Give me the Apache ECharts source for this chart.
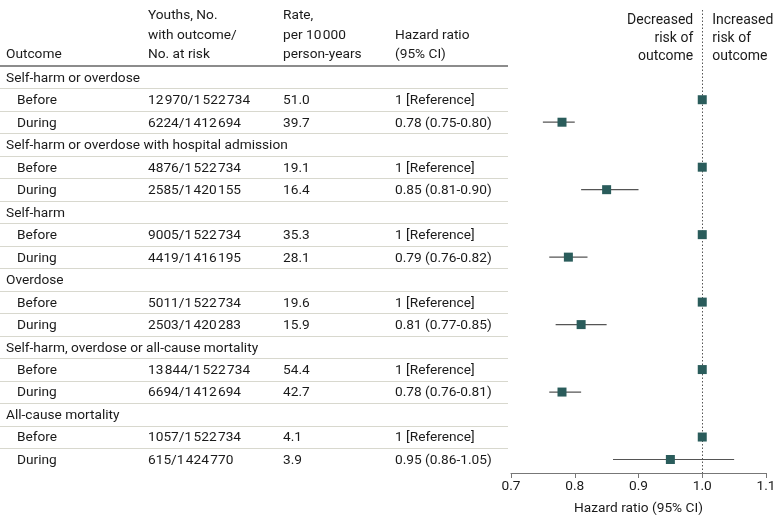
<!DOCTYPE html>
<html><head><meta charset="utf-8">
<script src="https://cdn.jsdelivr.net/npm/echarts@6/dist/echarts.min.js"></script>
<style>html,body{margin:0;padding:0;background:#fff}#c{width:780px;height:526px}</style>
</head><body><div id="c"></div>
<script>
const outcomes = ["Self-harm or overdose","Self-harm or overdose with hospital admission","Self-harm","Overdose","Self-harm, overdose or all-cause mortality","All-cause mortality"];
const periods = ["Before","During"];
const youthsBefore = ["12\u200A970/1\u200A522\u200A734","4876/1\u200A522\u200A734","9005/1\u200A522\u200A734","5011/1\u200A522\u200A734","13\u200A844/1\u200A522\u200A734","1057/1\u200A522\u200A734"];
const youthsDuring = ["6224/1\u200A412\u200A694","2585/1\u200A420\u200A155","4419/1\u200A416\u200A195","2503/1\u200A420\u200A283","6694/1\u200A412\u200A694","615/1\u200A424\u200A770"];
const rateBefore = ["51.0","19.1","35.3","19.6","54.4","4.1"];
const rateDuring = ["39.7","16.4","28.1","15.9","42.7","3.9"];
const hrBefore = [1,1,1,1,1,1];
const hrDuring = [0.78,0.85,0.79,0.81,0.78,0.95];
const ciLow = [0.75,0.81,0.76,0.77,0.76,0.86];
const ciHigh = [0.80,0.90,0.82,0.85,0.81,1.05];
const xTicks = [0.7,0.8,0.9,1.0,1.1];

const FONT = 'Roboto';
const FS = 13.7;
const TXT = '#1a1a1a';
const chart = echarts.init(document.getElementById('c'));

const points = [], ciData = [];
outcomes.forEach((o,k)=>{
  points.push([hrBefore[k], 3*k+1]);
  points.push([hrDuring[k], 3*k+2]);
  ciData.push([ciLow[k], ciHigh[k], 3*k+2]);
});

chart.setOption({
  animation:false,
  grid:{left:511, right:14, top:66, bottom:53},
  xAxis:{type:'value', min:xTicks[0], max:xTicks[xTicks.length-1], interval:0.1,
    axisLine:{show:true, onZero:false, lineStyle:{color:'#777', width:1}},
    axisTick:{show:true, length:5, lineStyle:{color:'#777'}},
    splitLine:{show:false},
    axisLabel:{fontFamily:FONT, fontSize:FS, color:TXT, margin:7, formatter:v=>v.toFixed(1)},
    name:'Hazard ratio (95% CI)', nameLocation:'middle', nameGap:29,
    nameTextStyle:{fontFamily:FONT, fontSize:FS, color:TXT}},
  yAxis:{type:'value', inverse:true, min:-0.5, max:17.6, show:false},
  series:[
    {type:'custom', data:ciData, encode:{x:[0,1], y:2},
     renderItem:(params, api)=>{
       const a = api.coord([api.value(0), api.value(2)]);
       const b = api.coord([api.value(1), api.value(2)]);
       return {type:'line', shape:{x1:a[0], y1:a[1], x2:b[0], y2:b[1]}, style:{stroke:'#555', lineWidth:1.2}};
     }, z:2},
    {type:'scatter', data:points, symbol:'rect', symbolSize:9,
     itemStyle:{color:'#2a5c5b', opacity:1}, z:3}
  ]
});

function yPix(v){ return chart.convertToPixel({gridIndex:0}, [1, v])[1]; }
const xOne = chart.convertToPixel({gridIndex:0}, [1, 0])[0];
const g = [];
function txt(x, y, s, opt){
  g.push({type:'text', x:x, y:y+1, style:Object.assign({text:s, fontFamily:FONT, fontSize:FS, fill:TXT, textVerticalAlign:'middle', textAlign:'left'}, opt||{}), z:10});
}
// header
const hdrYs = [15, 35, 54];
txt(6, hdrYs[2], 'Outcome');
txt(148, hdrYs[0], 'Youths, No.'); txt(148, hdrYs[1], 'with outcome/'); txt(148, hdrYs[2], 'No. at risk');
txt(283, hdrYs[0], 'Rate,'); txt(283, hdrYs[1], 'per 10\u200A000'); txt(283, hdrYs[2], 'person-years');
txt(395, hdrYs[1], 'Hazard ratio'); txt(395, hdrYs[2], '(95% CI)');
g.push({type:'line', shape:{x1:0, y1:yPix(-0.5), x2:508, y2:yPix(-0.5)}, style:{stroke:'#666', lineWidth:1.5}, z:5});
outcomes.forEach((o,k)=>{
  const y0 = yPix(3*k), y1 = yPix(3*k+1), y2 = yPix(3*k+2);
  txt(6, y0, o);
  txt(17, y1, periods[0]); txt(148, y1, youthsBefore[k]); txt(283, y1, rateBefore[k]); txt(395, y1, '1 [Reference]');
  txt(17, y2, periods[1]); txt(148, y2, youthsDuring[k]); txt(283, y2, rateDuring[k]);
  txt(395, y2, hrDuring[k].toFixed(2)+' ('+ciLow[k].toFixed(2)+'-'+ciHigh[k].toFixed(2)+')');
  const seps = k<5 ? [3*k+0.5, 3*k+1.5, 3*k+2.5] : [3*k+0.5, 3*k+1.5];
  seps.forEach(s=>{
    const yy = Math.round(yPix(s))+0.5;
    g.push({type:'line', shape:{x1:0, y1:yy, x2:508, y2:yy}, style:{stroke:'#d8d8ce', lineWidth:1}, z:5});
  });
});
// reference line
const xr = Math.round(xOne)+0.5;
g.push({type:'line', shape:{x1:xr, y1:10, x2:xr, y2:yPix(17.6)}, style:{stroke:'#555', lineWidth:1, lineDash:[1.5,2]}, z:1});
['Decreased','risk of','outcome'].forEach((s,i)=>txt(xOne-9, 19+18*i, s, {textAlign:'right', fontSize:14}));
['Increased','risk of','outcome'].forEach((s,i)=>txt(xOne+10, 19+18*i, s, {textAlign:'left', fontSize:14}));
chart.setOption({graphic:g});
</script></body></html>
